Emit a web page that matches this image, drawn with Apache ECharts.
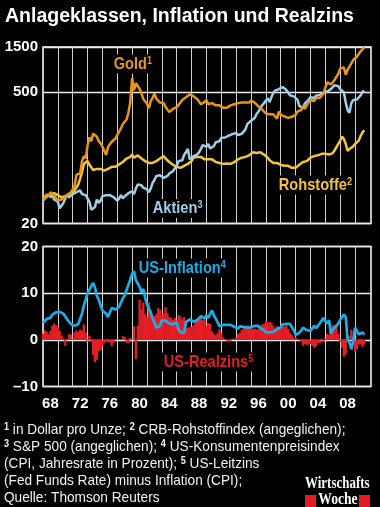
<!DOCTYPE html>
<html><head><meta charset="utf-8">
<script src="https://cdn.jsdelivr.net/npm/echarts@6/dist/echarts.min.js"></script>
<style>html,body{margin:0;padding:0;background:#000;}#c{width:380px;height:507px;}</style>
</head><body><div id="c"></div>
<script>
// quarterly values, first point = 1968.00, step = 0.25 years
const START_YEAR = 1968;
const STEP = 0.25;

const GOLD = [
  36, 38, 41, 39,   43, 42, 40, 37,   35, 36, 36, 37,   38, 40, 42, 43,
  46, 50, 66, 64,   68, 92, 104, 98,  135, 165, 150, 180, 178, 167, 150, 142,
  131, 127, 107, 130, 133, 148, 146, 160, 175, 176, 205, 228, 234, 255, 300, 390,
  700, 520, 620, 650, 540, 485, 420, 410, 375, 335, 400, 430, 480, 425, 420, 385,
  370, 380, 345, 340, 305, 315, 330, 325, 345, 345, 385, 410, 400, 440, 455, 470,
  460, 450, 430, 420, 395, 370, 360, 390, 410, 370, 385, 380, 375, 360, 360, 360,
  355, 340, 345, 340, 330, 360, 375, 370, 385, 380, 385, 385, 380, 385, 385, 385,
  405, 390, 385, 375, 350, 340, 325, 310, 295, 300, 290, 295, 290, 285, 260, 310,
  285, 280, 275, 270, 265, 265, 272, 282, 285, 310, 315, 320, 355, 330, 360, 390,
  410, 395, 400, 430, 425, 430, 440, 480, 555, 630, 630, 600, 630, 670, 670, 780,
  890, 900, 910, 760, 860, 930, 950, 1090, 1110, 1180, 1210, 1350, 1400, 1490
];
const ROHSTOFFE = [
  38, 38, 39, 40,   40, 41, 42, 41,   40, 39, 38, 38,   39, 40, 41, 42,
  43, 45, 48, 52,   60, 70, 86, 88,   92, 84, 80, 74,   72, 76, 78, 76,
  74, 73, 76, 76,   78, 80, 78, 80,   82, 85, 86, 90,   94, 98, 100, 102,
  108, 100, 104, 106, 102, 98, 94, 92, 90, 88, 86, 88,  90, 92, 96, 98,
  100, 104, 98, 94, 90, 86, 84, 82,   80, 79, 78, 80,   82, 84, 86, 88,
  92, 100, 104, 102, 104, 102, 98, 96, 98, 96, 98, 96,  92, 90, 90, 88,
  88, 86, 86, 87,   85, 86, 88, 90,   92, 96, 98, 100,  102, 102, 104, 106,
  110, 114, 116, 112, 112, 114, 110, 108, 104, 100, 94, 90, 88, 86, 88, 86,
  84, 83, 82, 84,   82, 80, 78, 76,   78, 80, 84, 86,   90, 92, 92, 95,
  100, 104, 104, 106, 106, 108, 110, 110, 110, 111, 108, 106, 112, 120, 126, 140,
  152, 168, 158, 140, 118, 124, 128, 132, 140, 146, 152, 170, 186, 196
];
const AKTIEN = [
  35, 37, 38, 40,   38, 40, 36, 37,   34, 29, 30, 33,   37, 40, 38, 38,
  41, 42, 43, 45,   45, 41, 41, 40,   37, 34, 28, 27,   30, 36, 33, 35,
  39, 39, 40, 41,   40, 39, 38, 37,   35, 37, 40, 37,   39, 39, 42, 40,
  44, 41, 47, 52,   51, 51, 48, 48,   46, 43, 47, 54,   58, 64, 65, 65,
  64, 61, 64, 64,   68, 71, 72, 74,   82, 92, 93, 94,   107, 115, 124, 96,
  100, 104, 102, 108, 114, 124, 136, 137, 131, 140, 125, 126, 133, 146, 150, 150,
  163, 160, 164, 165, 172, 176, 178, 181, 183, 174, 180, 179, 186, 200, 227, 238,
  247, 259, 264, 292, 308, 320, 361, 380, 390, 428, 390, 440, 490, 517, 520, 536,
  544, 563, 576, 525, 502, 460, 440, 448, 450, 414, 355, 345, 335, 378, 390, 412,
  440, 445, 430, 455, 460, 465, 475, 485, 500, 505, 505, 535, 555, 590, 575, 575,
  535, 520, 495, 385, 320, 300, 380, 410, 430, 415, 425, 460, 500, 515
];
const INFLATION = [
  3.6, 4.0, 4.5, 4.7,   4.7, 5.4, 5.7, 5.9,   6.1, 6.0, 5.6, 5.6,   5.0, 4.4, 4.2, 3.4,
  3.4, 3.0, 2.9, 3.4,   3.8, 5.6, 7.4, 8.6,   10.0, 10.7, 11.5, 12.2, 11.2, 9.4, 8.6, 7.4,
  6.3, 5.9, 5.6, 4.9,   5.3, 6.8, 6.6, 6.5,   6.6, 7.1, 8.0, 8.9,   9.5, 10.7, 11.8, 12.9,
  14.2, 14.7, 12.8, 12.7, 11.4, 10.1, 10.9, 9.0, 7.6, 6.7, 5.9, 4.6, 3.7, 2.6, 2.6, 3.0,
  4.2, 4.4, 4.1, 4.2,   3.5, 3.7, 3.3, 3.3,   3.8, 2.2, 1.6, 1.5,   1.5, 3.8, 3.9, 4.4,
  4.1, 3.9, 4.0, 4.2,   4.6, 5.1, 5.0, 4.6,   5.2, 4.7, 5.6, 6.3,   5.3, 4.9, 3.8, 2.9,
  2.6, 3.2, 3.2, 3.2,   3.2, 3.2, 2.8, 2.8,   2.5, 2.4, 2.9, 2.6,   2.8, 3.1, 2.6, 2.8,
  2.7, 2.8, 3.0, 3.0,   3.0, 2.5, 2.2, 2.1,   1.6, 1.7, 1.6, 1.5,   1.7, 2.1, 2.3, 2.6,
  2.7, 3.3, 3.4, 3.4,   3.7, 3.4, 2.7, 2.1,   1.1, 1.3, 1.5, 2.0,   2.6, 3.0, 2.1, 2.3,
  1.9, 2.3, 3.0, 2.5,   3.0, 3.5, 3.2, 4.7,   4.0, 3.5, 4.2, 1.3,   2.1, 2.6, 2.4, 3.5,
  4.3, 4.0, 5.4, 4.9,   0.1, -0.6, -2.0, -0.3, 2.6, 2.3, 1.2, 1.2,  1.6, 1.1
];
const REALZINS = [
  1.3, 2.0, 1.7, 1.2,   1.9, 3.0, 3.5, 3.1,   2.7, 1.9, 0.9, 0.3,   -1.3, 0.2, 1.2, 1.1,
  0.1, 1.6, 2.0, 1.7,   2.2, 1.9, 3.3, 1.5,   -0.3, 0.9, -0.2, -3.3, -4.8, -4.3, -2.5, -2.2,
  -1.4, -0.7, -0.3, -0.2, -0.6, -1.4, -0.6, 0.1, 0.1, 0.2, 0.1, 0.8, 0.6, -0.6, -0.7, 0.4,
  0.0, 2.9, -4.1, 3.0,  8.6, 6.5, 8.0, 5.5,   4.8, 8.0, 6.2, 4.7,   5.1, 5.5, 6.8, 6.5,
  5.4, 5.7, 7.0, 5.7,   4.9, 4.7, 4.3, 4.7,   4.2, 5.3, 5.0, 4.4,   4.9, 2.5, 2.6, 2.7,
  2.8, 3.1, 3.8, 4.1,   4.4, 4.7, 4.2, 4.4,   3.0, 3.6, 3.4, 1.8,   1.2, 1.0, 1.4, 2.3,
  1.4, 0.5, 0.1, -0.2,  -0.3, -0.2, 0.3, 0.2, 0.5, 1.2, 1.5, 2.1,   2.7, 2.9, 3.1, 3.0,
  2.9, 2.3, 2.4, 2.2,   2.3, 3.0, 3.3, 3.4,   4.0, 3.8, 3.8, 3.6,   3.0, 2.4, 2.9, 2.6,
  2.8, 3.0, 2.8, 3.1,   2.3, 1.5, 1.1, 0.4,   0.6, 0.2, -0.1, -0.2, -1.3, -0.9, -1.1, -1.0,
  -0.9, -1.3, -1.7, -1.4, -0.7, -0.7, 0.1, -0.5, 0.3, 1.3, 1.1, 2.5, 3.2, 2.7, 2.9, 1.3,
  -0.4, -1.7, -3.6, -3.1, 0.2, 0.8, 2.2, 0.3, -2.5, -2.0, -1.0, -1.0, -1.5, -1.0
];

const GRID_YEARS = [1968,1970,1972,1974,1976,1978,1980,1982,1984,1986,1988,1990,1992,1994,1996,1998,2000,2002,2004,2006,2008,2010];
const X_LABELS = ['68','72','76','80','84','88','92','96','00','04','08'];
const X_LABEL_POS = [1969,1973,1977,1981,1985,1989,1993,1997,2001,2005,2009];
const TOP_TICKS = [20, 500, 1500];

const FONT = '"Liberation Sans", Arial, sans-serif';
const C_GOLD = '#e8951c', C_ROH = '#f2c53a', C_AKT = '#9fcfe8', C_INF = '#1aaee8', C_REAL = '#e51e26';

function pairs(arr) { return arr.map((v, i) => [START_YEAR + i * STEP, v]); }

const chart = echarts.init(document.getElementById('c'), null, {renderer: 'canvas'});

const vSplit = {show: true, lineStyle: {color: '#cfcfcf', width: 1}};
const axisLabelStyle = {color: '#fff', fontSize: 15, fontWeight: 'bold', fontFamily: FONT};

function seriesLabel(x, y, main, sup, color) {
  return {
    type: 'text', x: x, y: y, z: 100, scaleX: 0.86,
    style: {
      text: '{m|' + main + '}{s|' + sup + '}',
      fill: color, backgroundColor: '#000', padding: [1, 2],
      verticalAlign: 'middle', align: 'left',
      rich: {
        m: {fontSize: 17, fontWeight: 'bold', fontFamily: FONT, fill: color},
        s: {fontSize: 10.5, fontWeight: 'bold', fontFamily: FONT, fill: color, verticalAlign: 'top'}
      }
    }
  };
}
const footRich = {
  m: {fontSize: 15, fontFamily: FONT, fill: '#f2f2f2'},
  s: {fontSize: 10, fontWeight: 'bold', fontFamily: FONT, fill: '#f2f2f2', verticalAlign: 'top'}
};
function footLine(y, text) {
  return {
    type: 'text', x: 4, y: y, z: 100, scaleX: 0.91,
    style: {text: text, fill: '#f2f2f2', verticalAlign: 'middle', rich: footRich}
  };
}

const option = {
  backgroundColor: '#000',
  animation: false,
  grid: [
    {left: 43, top: 47, width: 328, height: 176.5, show: true, borderColor: '#fff', borderWidth: 1.5, backgroundColor: 'transparent'},
    {left: 43, top: 246.5, width: 328, height: 140, show: true, borderColor: '#fff', borderWidth: 1.5, backgroundColor: 'transparent'}
  ],
  xAxis: [
    {type: 'value', gridIndex: 0, min: 1968, max: 2012.15,
     axisLine: {show: false}, axisTick: {show: false, customValues: GRID_YEARS},
     axisLabel: {show: false}, splitLine: vSplit},
    {type: 'value', gridIndex: 1, min: 1968, max: 2012.15,
     axisLine: {show: false}, axisTick: {show: false, customValues: GRID_YEARS},
     axisLabel: Object.assign({show: true, margin: 10, customValues: X_LABEL_POS,
       formatter: v => { const i = X_LABEL_POS.indexOf(Math.round(v)); return i >= 0 ? X_LABELS[i] : ''; }}, axisLabelStyle),
     splitLine: vSplit}
  ],
  yAxis: [
    {type: 'log', logBase: 10, gridIndex: 0, min: 20, max: 1500,
     axisLine: {show: false}, axisTick: {show: false, customValues: TOP_TICKS},
     axisLabel: Object.assign({margin: 5, customValues: TOP_TICKS, formatter: v => String(Math.round(v))}, axisLabelStyle),
     splitLine: {show: true, lineStyle: {color: '#ececec', width: 1.3}}},
    {type: 'value', gridIndex: 1, min: -10, max: 20, interval: 10,
     axisLine: {show: false}, axisTick: {show: false},
     axisLabel: Object.assign({margin: 5, formatter: v => v < 0 ? '\u2013' + Math.abs(v) : String(v)}, axisLabelStyle),
     splitLine: {show: true, lineStyle: {color: '#ececec', width: 1.3}}}
  ],
  series: [
    {name: 'Rohstoffe', type: 'line', xAxisIndex: 0, yAxisIndex: 0, data: pairs(ROHSTOFFE), showSymbol: false,
     lineStyle: {color: C_ROH, width: 2.5}, z: 3},
    {name: 'Aktien', type: 'line', xAxisIndex: 0, yAxisIndex: 0, data: pairs(AKTIEN), showSymbol: false,
     lineStyle: {color: C_AKT, width: 2.5}, z: 4},
    {name: 'Gold', type: 'line', xAxisIndex: 0, yAxisIndex: 0, data: pairs(GOLD), showSymbol: false,
     lineStyle: {color: C_GOLD, width: 2.5}, z: 5},
    {name: 'US-Realzins', type: 'bar', xAxisIndex: 1, yAxisIndex: 1, data: pairs(REALZINS), barWidth: 2.3,
     itemStyle: {color: C_REAL}, z: 3},
    {name: 'US-Inflation', type: 'line', xAxisIndex: 1, yAxisIndex: 1, data: pairs(INFLATION), showSymbol: false,
     lineStyle: {color: C_INF, width: 2.7}, z: 5}
  ],
  graphic: [
    {type: 'text', x: 5, y: 16.5, z: 100,
     style: {text: 'Anlageklassen, Inflation und Realzins', fill: '#fff', fontSize: 19.5, fontWeight: 'bold', fontFamily: FONT, verticalAlign: 'middle'}},
    seriesLabel(112, 64, 'Gold', '1', C_GOLD),
    seriesLabel(151, 208.5, 'Aktien', '3', C_AKT),
    seriesLabel(277, 185, 'Rohstoffe', '2', C_ROH),
    seriesLabel(137, 268, 'US-Inflation', '4', C_INF),
    seriesLabel(162, 362, 'US-Realzins', '5', C_REAL),
    footLine(430, '{s|1}{m| in Dollar pro Unze; }{s|2}{m| CRB-Rohstoffindex (angeglichen);}'),
    footLine(447, '{s|3}{m| S&P 500 (angeglichen); }{s|4}{m| US-Konsumentenpreisindex}'),
    footLine(464, '{m|(CPI, Jahresrate in Prozent); }{s|5}{m| US-Leitzins}'),
    footLine(481, '{m|(Fed Funds Rate) minus Inflation (CPI);}'),
    footLine(498, '{m|Quelle: Thomson Reuters}'),
    {type: 'text', x: 305, y: 484, z: 100, scaleX: 0.81,
     style: {text: 'Wirtschafts', fill: '#fff', fontSize: 16, fontWeight: 'bold', fontFamily: '"Liberation Serif", serif', verticalAlign: 'middle'}},
    {type: 'rect', z: 100, shape: {x: 305, y: 495, width: 11, height: 12}, style: {fill: '#e31b23'}},
    {type: 'rect', z: 100, shape: {x: 359, y: 495, width: 11, height: 12}, style: {fill: '#e31b23'}},
    {type: 'text', x: 338, y: 500, z: 100, scaleX: 0.85,
     style: {text: 'Woche', fill: '#fff', fontSize: 16, fontWeight: 'bold', fontFamily: '"Liberation Serif", serif', verticalAlign: 'middle', align: 'center'}}
  ]
};
chart.setOption(option);
</script>
</body></html>
